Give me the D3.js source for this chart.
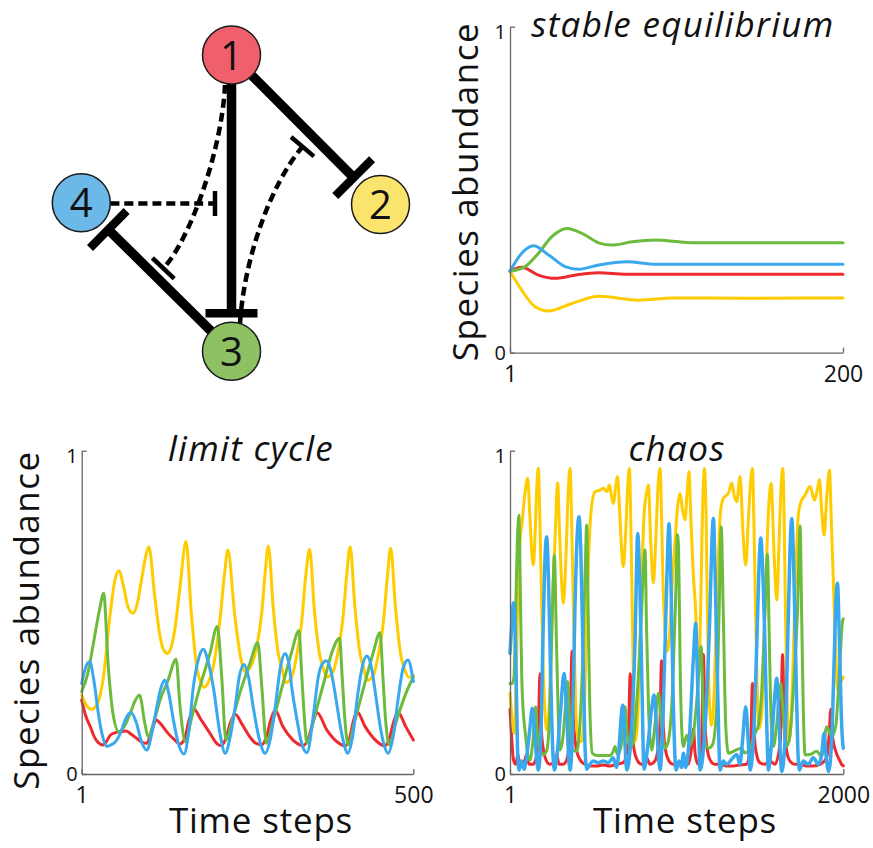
<!DOCTYPE html>
<html>
<head>
<meta charset="utf-8">
<script src="https://cdn.jsdelivr.net/npm/d3@7"></script>
<style>
  body { margin: 0; background: #fff; }
  svg { display: block; }
  text { font-family: "Open Sans", "DejaVu Sans", sans-serif; fill: #111; }
</style>
</head>
<body>
<svg id="fig" width="873" height="848"></svg>
<script>
// ---------------- data ----------------
const yTicks = [0, 1];
const stableTicksX = [1, 200];
const limitTicksX = [1, 500];
const chaosTicksX = [1, 2000];

// four-species community: [time step, abundance]
const stableRed    = [[1,0.25],[8,0.262],[18,0.238],[28,0.228],[42,0.24],[54,0.245],[70,0.241],[100,0.241],[140,0.241],[200,0.241]];
const stableYellow = [[1,0.25],[8,0.192],[16,0.141],[24,0.128],[38,0.151],[54,0.173],[78,0.161],[98,0.168],[140,0.167],[200,0.168]];
const stableGreen  = [[1,0.25],[10,0.264],[18,0.305],[26,0.356],[35,0.381],[44,0.366],[54,0.337],[62,0.33],[74,0.34],[88,0.346],[102,0.34],[112,0.337],[150,0.337],[200,0.337]];
const stableBlue   = [[1,0.25],[8,0.305],[15,0.328],[24,0.3],[34,0.264],[42,0.256],[54,0.269],[71,0.279],[88,0.271],[130,0.271],[200,0.271]];

const limitRed = [[1,0.229],[7,0.18],[14,0.146],[20,0.115],[26,0.097],[33,0.09],[38,0.1],[44,0.12],[52,0.128],[60,0.131],[68,0.133],[76,0.122],[84,0.11],[92,0.098],[99,0.095],[106,0.13],[113,0.167],[120,0.155],[130,0.128],[140,0.107],[149,0.093],[156,0.11],[163,0.17],[170,0.2],[180,0.17],[194,0.126],[202,0.1],[210,0.088],[218,0.11],[225,0.16],[232,0.185],[242,0.155],[254,0.115],[263,0.095],[272,0.09],[279,0.115],[286,0.17],[292,0.197],[304,0.146],[319,0.105],[334,0.088],[342,0.11],[349,0.16],[355,0.19],[370,0.136],[387,0.097],[397,0.087],[404,0.11],[410,0.165],[415,0.193],[428,0.145],[443,0.105],[457,0.087],[464,0.11],[471,0.165],[477,0.19],[489,0.145],[500,0.105]];
const limitYellow = [[1,0.244],[9,0.21],[16,0.2],[24,0.215],[33,0.29],[44,0.497],[51,0.6],[57,0.629],[64,0.58],[71,0.515],[78,0.497],[85,0.53],[91,0.6],[97,0.67],[102,0.703],[111,0.548],[119,0.425],[124,0.385],[130,0.373],[136,0.395],[141,0.445],[149,0.58],[158,0.719],[166,0.497],[174,0.332],[180,0.285],[185,0.268],[192,0.285],[199,0.332],[209,0.476],[216,0.62],[221,0.693],[231,0.497],[241,0.352],[247,0.316],[256,0.335],[264,0.39],[272,0.5],[277,0.62],[282,0.705],[289,0.52],[297,0.37],[302,0.33],[308,0.283],[317,0.3],[324,0.36],[332,0.47],[338,0.61],[344,0.695],[351,0.51],[359,0.37],[364,0.33],[370,0.3],[379,0.315],[386,0.37],[394,0.48],[400,0.62],[405,0.703],[412,0.52],[420,0.37],[425,0.33],[431,0.29],[440,0.305],[447,0.365],[455,0.47],[461,0.61],[466,0.698],[473,0.52],[481,0.37],[486,0.33],[493,0.299],[500,0.305]];
const limitGreen = [[1,0.255],[10,0.31],[20,0.42],[28,0.51],[34,0.559],[41,0.332],[48,0.188],[57,0.131],[66,0.15],[74,0.188],[81,0.225],[88,0.244],[96,0.157],[101,0.115],[110,0.165],[119,0.229],[131,0.29],[143,0.355],[149,0.208],[157,0.1],[166,0.17],[179,0.27],[194,0.373],[205,0.456],[212,0.29],[218,0.105],[228,0.17],[239,0.25],[254,0.342],[266,0.406],[272,0.27],[279,0.095],[289,0.165],[304,0.28],[316,0.37],[328,0.443],[332,0.31],[336,0.177],[340,0.095],[350,0.167],[365,0.28],[377,0.373],[389,0.42],[393,0.3],[397,0.17],[402,0.09],[412,0.165],[427,0.28],[439,0.37],[450,0.437],[454,0.31],[458,0.175],[464,0.09],[474,0.16],[489,0.25],[500,0.3]];
const limitBlue = [[1,0.28],[7,0.33],[13,0.347],[20,0.28],[26,0.188],[32,0.12],[39,0.085],[45,0.09],[52,0.1],[60,0.13],[67,0.17],[75,0.19],[83,0.16],[91,0.1],[99,0.074],[106,0.12],[114,0.208],[120,0.265],[126,0.29],[132,0.25],[139,0.167],[147,0.09],[155,0.062],[162,0.13],[169,0.27],[176,0.35],[184,0.386],[191,0.35],[199,0.27],[209,0.126],[217,0.064],[224,0.11],[232,0.208],[238,0.3],[245,0.339],[252,0.3],[259,0.208],[268,0.11],[277,0.064],[285,0.11],[293,0.22],[300,0.33],[307,0.373],[313,0.34],[317,0.27],[325,0.167],[332,0.095],[340,0.066],[350,0.188],[357,0.3],[363,0.34],[369,0.35],[376,0.32],[383,0.24],[390,0.15],[396,0.09],[401,0.064],[409,0.12],[416,0.24],[423,0.33],[430,0.365],[437,0.33],[443,0.25],[450,0.15],[456,0.09],[462,0.064],[470,0.12],[477,0.23],[485,0.33],[492,0.353],[500,0.286]];

const chaosRed = [[1,0.2],[10,0.12],[21,0.045],[35,0.03],[48,0.06],[60,0.03],[80,0.028],[101,0.06],[115,0.03],[140,0.03],[162,0.06],[174,0.2],[181,0.31],[190,0.13],[203,0.07],[220,0.04],[240,0.03],[262,0.035],[281,0.06],[295,0.03],[320,0.03],[345,0.05],[363,0.18],[373,0.38],[383,0.16],[398,0.08],[420,0.045],[450,0.03],[480,0.025],[520,0.025],[560,0.028],[600,0.025],[640,0.03],[680,0.035],[710,0.1],[722,0.31],[732,0.15],[747,0.07],[767,0.04],[790,0.03],[820,0.05],[840,0.03],[870,0.04],[898,0.12],[910,0.35],[920,0.15],[935,0.07],[955,0.04],[980,0.03],[1010,0.03],[1040,0.04],[1070,0.03],[1092,0.09],[1101,0.14],[1112,0.06],[1130,0.03],[1150,0.1],[1161,0.37],[1171,0.15],[1186,0.07],[1205,0.04],[1230,0.03],[1260,0.03],[1300,0.025],[1340,0.025],[1380,0.028],[1420,0.03],[1445,0.1],[1455,0.28],[1465,0.13],[1480,0.06],[1500,0.035],[1530,0.03],[1560,0.04],[1590,0.03],[1622,0.1],[1636,0.37],[1646,0.15],[1661,0.07],[1680,0.04],[1710,0.03],[1740,0.03],[1780,0.025],[1820,0.025],[1860,0.03],[1900,0.05],[1915,0.12],[1925,0.2],[1937,0.11],[1955,0.07],[1975,0.045],[1990,0.03],[2000,0.025]];
const chaosYellow = [[1,0.25],[14,0.17],[27,0.126],[40,0.35],[50,0.6],[61,0.724],[71,0.765],[91,0.87],[107,0.915],[120,0.8],[130,0.7],[141,0.646],[152,0.75],[163,0.9],[171,0.946],[179,0.82],[187,0.62],[201,0.31],[212,0.18],[221,0.136],[235,0.2],[251,0.466],[271,0.724],[287,0.9],[298,0.75],[310,0.6],[321,0.528],[335,0.65],[350,0.87],[361,0.946],[370,0.8],[381,0.52],[395,0.21],[411,0.105],[430,0.1],[450,0.25],[465,0.55],[481,0.77],[491,0.83],[511,0.873],[541,0.878],[561,0.884],[581,0.873],[597,0.894],[610,0.86],[621,0.837],[635,0.89],[645,0.92],[660,0.8],[672,0.68],[681,0.641],[695,0.75],[708,0.9],[717,0.945],[725,0.8],[733,0.55],[741,0.3],[751,0.1],[765,0.15],[785,0.5],[805,0.8],[820,0.87],[831,0.894],[845,0.72],[861,0.59],[875,0.72],[890,0.9],[901,0.945],[910,0.8],[918,0.6],[930,0.45],[945,0.38],[960,0.45],[975,0.6],[991,0.72],[1005,0.82],[1021,0.868],[1035,0.82],[1051,0.786],[1063,0.87],[1075,0.935],[1085,0.8],[1100,0.62],[1115,0.5],[1128,0.3],[1140,0.4],[1155,0.8],[1167,0.945],[1177,0.8],[1185,0.5],[1195,0.25],[1210,0.15],[1225,0.25],[1245,0.6],[1265,0.82],[1281,0.853],[1295,0.86],[1311,0.868],[1331,0.9],[1346,0.86],[1361,0.842],[1381,0.92],[1398,0.75],[1415,0.646],[1430,0.78],[1445,0.91],[1455,0.945],[1463,0.8],[1472,0.55],[1482,0.3],[1495,0.14],[1510,0.18],[1530,0.5],[1550,0.8],[1567,0.899],[1585,0.68],[1601,0.538],[1615,0.72],[1628,0.9],[1637,0.945],[1645,0.8],[1653,0.5],[1662,0.25],[1675,0.1],[1690,0.2],[1710,0.55],[1730,0.8],[1745,0.84],[1771,0.863],[1801,0.889],[1827,0.847],[1845,0.88],[1857,0.911],[1870,0.82],[1885,0.739],[1900,0.85],[1917,0.94],[1927,0.8],[1937,0.65],[1945,0.517],[1955,0.38],[1965,0.26],[1975,0.27],[1990,0.29],[2000,0.3]];
const chaosGreen = [[1,0.28],[15,0.28],[25,0.3],[35,0.5],[45,0.72],[55,0.8],[62,0.6],[71,0.31],[81,0.19],[91,0.136],[105,0.07],[121,0.043],[138,0.1],[155,0.208],[165,0.12],[181,0.074],[200,0.06],[220,0.07],[240,0.2],[255,0.5],[267,0.677],[280,0.4],[292,0.15],[301,0.074],[320,0.12],[335,0.22],[347,0.286],[360,0.15],[381,0.074],[400,0.07],[420,0.15],[440,0.4],[453,0.65],[461,0.77],[470,0.5],[480,0.2],[495,0.064],[520,0.057],[560,0.057],[600,0.057],[620,0.07],[631,0.085],[645,0.06],[665,0.08],[680,0.15],[691,0.208],[705,0.12],[721,0.08],[740,0.1],[765,0.25],[790,0.5],[803,0.65],[811,0.693],[820,0.45],[832,0.2],[851,0.074],[870,0.15],[891,0.25],[910,0.15],[931,0.08],[950,0.1],[975,0.25],[995,0.55],[1005,0.74],[1012,0.7],[1021,0.35],[1030,0.15],[1041,0.085],[1061,0.12],[1080,0.09],[1100,0.12],[1125,0.25],[1147,0.394],[1157,0.25],[1167,0.11],[1191,0.08],[1215,0.09],[1240,0.2],[1255,0.5],[1268,0.765],[1280,0.5],[1295,0.15],[1311,0.064],[1340,0.07],[1361,0.075],[1390,0.08],[1410,0.065],[1440,0.08],[1471,0.126],[1490,0.15],[1510,0.25],[1530,0.5],[1545,0.68],[1555,0.45],[1565,0.2],[1581,0.085],[1600,0.15],[1625,0.28],[1640,0.18],[1661,0.085],[1680,0.12],[1705,0.3],[1725,0.5],[1741,0.767],[1750,0.5],[1760,0.2],[1771,0.059],[1800,0.06],[1840,0.07],[1870,0.055],[1901,0.146],[1930,0.115],[1955,0.15],[1975,0.3],[1995,0.47],[2000,0.48]];
const chaosBlue = [[1,0.373],[10,0.45],[21,0.53],[28,0.5],[38,0.3],[46,0.08],[55,0.012],[70,0.04],[85,0.015],[100,0.05],[118,0.13],[135,0.203],[150,0.12],[162,0.04],[171,0.012],[185,0.1],[200,0.45],[212,0.68],[221,0.734],[232,0.6],[245,0.3],[257,0.08],[267,0.012],[285,0.07],[305,0.2],[325,0.311],[340,0.2],[352,0.06],[361,0.012],[375,0.12],[390,0.5],[405,0.75],[415,0.796],[425,0.7],[438,0.4],[450,0.1],[461,0.015],[480,0.03],[500,0.04],[530,0.035],[560,0.04],[590,0.035],[620,0.05],[640,0.02],[655,0.08],[668,0.18],[677,0.213],[690,0.1],[701,0.012],[725,0.1],[751,0.41],[767,0.744],[779,0.6],[791,0.31],[805,0.015],[830,0.1],[850,0.2],[865,0.244],[880,0.15],[901,0.012],[920,0.2],[937,0.517],[955,0.775],[968,0.55],[981,0.208],[997,0.012],[1015,0.04],[1030,0.02],[1041,0.064],[1055,0.02],[1075,0.1],[1100,0.35],[1115,0.466],[1128,0.25],[1141,0.012],[1165,0.1],[1200,0.5],[1212,0.72],[1221,0.79],[1232,0.6],[1247,0.25],[1261,0.012],[1280,0.04],[1300,0.03],[1330,0.045],[1361,0.06],[1380,0.03],[1395,0.1],[1415,0.208],[1430,0.1],[1441,0.012],[1460,0.1],[1481,0.4],[1495,0.65],[1505,0.73],[1515,0.65],[1530,0.4],[1541,0.15],[1551,0.012],[1570,0.1],[1590,0.25],[1601,0.296],[1615,0.15],[1631,0.008],[1650,0.1],[1671,0.5],[1683,0.73],[1691,0.79],[1702,0.65],[1715,0.35],[1727,0.08],[1737,0.012],[1760,0.04],[1790,0.03],[1820,0.05],[1850,0.03],[1870,0.06],[1885,0.126],[1898,0.05],[1911,0.008],[1930,0.1],[1945,0.35],[1957,0.55],[1965,0.59],[1975,0.45],[1987,0.2],[1995,0.105],[2000,0.08]];

// interaction network: species labels, direct inhibitions, and
// inhibitions acting on an interaction (source species -> edge)
const speciesIds = [1, 2, 3, 4];
const directEdges = [[1, 2], [1, 3], [3, 4]];
const modifierEdges = [{ from: 4, on: [1, 3] }, { from: 1, on: [3, 4] }, { from: 3, on: [1, 2] }];

// ---------------- styling / layout ----------------
const seriesColor = { red: "#ee2a2e", yellow: "#ffcc00", green: "#6dbb3d", blue: "#3aa8ee" };
const nodeFill = { 1: "#f0606c", 2: "#fbe46e", 3: "#8dc163", 4: "#6cb8e8" };
const nodePos = { 1: [231.5, 55], 2: [380.5, 204.5], 3: [231.5, 351.3], 4: [81.3, 202.8] };
const nodeR = 29;
const modifierPaths = {
  "4>1-3": { start: [110.3, 203.5], c1: [150, 203.5], c2: [180, 203.5], end: [215, 203.5], bar: 25 },
  "1>3-4": { start: [225, 85], c1: [222, 150], c2: [190, 240], end: [163.3, 268.3], bar: 30 },
  "3>1-2": { start: [240, 323.5], c1: [244, 260], c2: [270, 185], end: [302.5, 146.7], bar: 30 }
};

const svg = d3.select("#fig");

// ---------------- network diagram ----------------
const net = svg.append("g");
const solidW = 9.5, solidBar = 52, barGap = 38;

function drawBar(g, cx, cy, ux, uy, len, w) {
  // bar perpendicular to direction (ux, uy)
  const px = -uy, py = ux;
  g.append("line")
    .attr("x1", cx - px * len / 2).attr("y1", cy - py * len / 2)
    .attr("x2", cx + px * len / 2).attr("y2", cy + py * len / 2)
    .attr("stroke", "#000").attr("stroke-width", w);
}

directEdges.forEach(([a, b]) => {
  const [x0, y0] = nodePos[a], [x1, y1] = nodePos[b];
  const d = Math.hypot(x1 - x0, y1 - y0), ux = (x1 - x0) / d, uy = (y1 - y0) / d;
  const sx = x0 + ux * nodeR, sy = y0 + uy * nodeR;
  const ex = x1 - ux * barGap, ey = y1 - uy * barGap;
  net.append("line").attr("x1", sx).attr("y1", sy).attr("x2", ex).attr("y2", ey)
    .attr("stroke", "#000").attr("stroke-width", solidW);
  drawBar(net, ex, ey, ux, uy, solidBar, 8.5);
});

modifierEdges.forEach(m => {
  const p = modifierPaths[`${m.from}>${m.on[0]}-${m.on[1]}`];
  const path = d3.path();
  path.moveTo(...p.start);
  path.bezierCurveTo(...p.c1, ...p.c2, ...p.end);
  net.append("path").attr("d", path.toString()).attr("fill", "none")
    .attr("stroke", "#000").attr("stroke-width", 4.5).attr("stroke-dasharray", "9,5");
  const dx = p.end[0] - p.c2[0], dy = p.end[1] - p.c2[1], dl = Math.hypot(dx, dy);
  drawBar(net, p.end[0], p.end[1], dx / dl, dy / dl, p.bar, 4.5);
});

const nodes = net.selectAll("g.node").data(speciesIds).join("g")
  .attr("class", "node")
  .attr("transform", d => `translate(${nodePos[d][0]},${nodePos[d][1]})`);
nodes.append("circle").attr("r", nodeR).attr("fill", d => nodeFill[d])
  .attr("stroke", "#1a1a1a").attr("stroke-width", 1.5);
nodes.append("text").attr("text-anchor", "middle").attr("y", 14.5)
  .style("font-size", "40px").text(d => d);

// ---------------- time-series panels ----------------
const panels = [
  { title: "stable equilibrium", ticksX: stableTicksX,
    series: [[stableRed, "red"], [stableYellow, "yellow"], [stableGreen, "green"], [stableBlue, "blue"]],
    box: { l: 510, r: 843, t: 26.7, b: 352.7 }, titleAt: [683, 36.5],
    yLabelAt: [477.5, 191.5], xLabelAt: null, lineW: 3 },
  { title: "limit cycle", ticksX: limitTicksX,
    series: [[limitRed, "red"], [limitYellow, "yellow"], [limitGreen, "green"], [limitBlue, "blue"]],
    box: { l: 81.7, r: 413.3, t: 450.7, b: 774 }, titleAt: [251, 461],
    yLabelAt: [38.5, 620], xLabelAt: [261, 833], lineW: 3 },
  { title: "chaos", ticksX: chaosTicksX,
    series: [[chaosRed, "red"], [chaosYellow, "yellow"], [chaosGreen, "green"], [chaosBlue, "blue"]],
    box: { l: 510, r: 843.3, t: 450.7, b: 774 }, titleAt: [677, 461],
    yLabelAt: null, xLabelAt: [685, 833], lineW: 3 }
];

const intFormat = d3.format("d");

panels.forEach(p => {
  const g = svg.append("g");
  const x = d3.scaleLinear().domain(d3.extent(p.ticksX)).range([p.box.l, p.box.r]);
  const y = d3.scaleLinear().domain(d3.extent(yTicks)).range([p.box.b, p.box.t]);

  const line = d3.line().x(d => x(d[0])).y(d => y(d[1])).curve(d3.curveMonotoneX);
  p.series.forEach(([data, key]) => {
    g.append("path").datum(data).attr("d", line).attr("fill", "none")
      .attr("stroke", seriesColor[key])
      .attr("stroke-width", key === "blue" && p.title === "chaos" ? 3.5 : p.lineW)
      .attr("stroke-linejoin", "round").attr("stroke-linecap", "round");
  });

  const yAxis = g.append("g").attr("transform", `translate(${p.box.l},0)`)
    .call(d3.axisLeft(y).tickValues(yTicks).tickFormat(intFormat)
      .tickSizeInner(-5).tickSizeOuter(0).tickPadding(4));
  const xAxis = g.append("g").attr("transform", `translate(0,${p.box.b})`)
    .call(d3.axisBottom(x).tickValues(p.ticksX).tickFormat(intFormat)
      .tickSizeInner(-5).tickSizeOuter(0).tickPadding(12.5));
  [yAxis, xAxis].forEach(a => {
    a.attr("font-family", null).attr("font-size", null);
    a.selectAll("path, line").attr("stroke", "#666").attr("stroke-width", 1.3);
  });
  yAxis.selectAll("text").style("font-size", "20px")
    .attr("dy", d => d === 1 ? "0.6em" : "0.32em");
  xAxis.selectAll("text").style("font-size", "23px");

  g.append("text").attr("x", p.titleAt[0]).attr("y", p.titleAt[1])
    .attr("text-anchor", "middle").style("font-size", "35px").style("font-style", "italic")
    .style("letter-spacing", "1.3px").text(p.title);

  if (p.yLabelAt) {
    g.append("text").attr("transform", `translate(${p.yLabelAt[0]},${p.yLabelAt[1]}) rotate(-90)`)
      .attr("text-anchor", "middle").style("font-size", "35px").style("letter-spacing", "1.5px")
      .text("Species abundance");
  }
  if (p.xLabelAt) {
    g.append("text").attr("x", p.xLabelAt[0]).attr("y", p.xLabelAt[1])
      .attr("text-anchor", "middle").style("font-size", "35px").style("letter-spacing", "0.8px")
      .text("Time steps");
  }
});
</script>
</body>
</html>
